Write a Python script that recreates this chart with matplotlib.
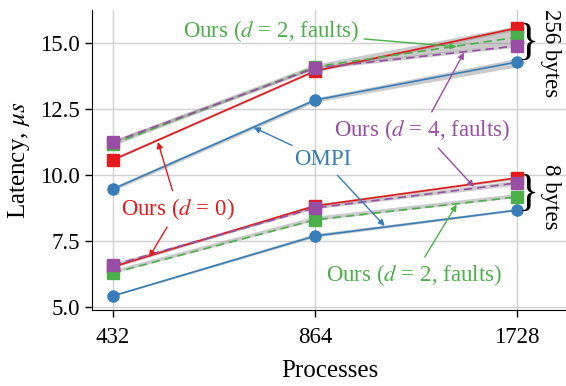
import numpy as np
import matplotlib.pyplot as plt

plt.rcParams['font.family'] = ['Liberation Serif', 'DejaVu Serif']
plt.rcParams['mathtext.fontset'] = 'stix'
plt.rcParams['font.size'] = 16.5

procs = [432, 864, 1728]

# 256-byte messages
ompi_256 = [9.47, 12.84, 14.28]
d0_256 = [10.57, 13.94, 15.57]
d2f_256 = [11.17, 14.10, 15.22]
d4f_256 = [11.25, 14.05, 14.89]

# 8-byte messages
ompi_8 = [5.42, 7.69, 8.67]
d0_8 = [6.52, 8.83, 9.89]
d2f_8 = [6.29, 8.30, 9.17]
d4f_8 = [6.59, 8.75, 9.70]

# spread (min/max over runs)
ompi_256_lo = [9.40, 12.76, 14.10]
ompi_256_hi = [9.55, 12.92, 14.42]
d0_256_lo = [10.55, 13.90, 15.50]
d0_256_hi = [10.66, 14.00, 15.62]
d2f_256_lo = [11.12, 14.05, 15.00]
d2f_256_hi = [11.32, 14.20, 15.65]
d4f_256_lo = [11.20, 14.00, 14.85]
d4f_256_hi = [11.32, 14.12, 15.00]

ompi_8_lo = [5.40, 7.64, 8.64]
ompi_8_hi = [5.46, 7.78, 8.72]
d0_8_lo = [6.48, 8.78, 9.84]
d0_8_hi = [6.58, 8.90, 9.94]
d2f_8_lo = [6.28, 8.28, 9.15]
d2f_8_hi = [6.42, 8.44, 9.30]
d4f_8_lo = [6.55, 8.72, 9.62]
d4f_8_hi = [6.66, 8.82, 9.80]

blue = '#377eb8'
red = '#e41a1c'
green = '#4daf4a'
purple = '#984ea3'

fig = plt.figure(figsize=(5.66, 3.86), dpi=100)
ax = fig.add_axes([0.1625, 0.197, 0.84, 0.777])

series = [
    (ompi_256, ompi_256_lo, ompi_256_hi, blue, 'o', '-'),
    (d0_256, d0_256_lo, d0_256_hi, red, 's', '-'),
    (d2f_256, d2f_256_lo, d2f_256_hi, green, 's', (0, (5, 3))),
    (d4f_256, d4f_256_lo, d4f_256_hi, purple, 's', (0, (5, 3))),
    (ompi_8, ompi_8_lo, ompi_8_hi, blue, 'o', '-'),
    (d0_8, d0_8_lo, d0_8_hi, red, 's', '-'),
    (d2f_8, d2f_8_lo, d2f_8_hi, green, 's', (0, (5, 3))),
    (d4f_8, d4f_8_lo, d4f_8_hi, purple, 's', (0, (5, 3))),
]
for i, (v, lo, hi, c, m, ls) in enumerate(series):
    ax.fill_between(procs, lo, hi, color='0.55', alpha=0.45, lw=0, zorder=2)
    ax.plot(procs, v, color=c, marker=m, ls=ls, lw=1.2, ms=8,
            zorder=3 + i % 4)

ax.set_xscale('log', base=2)
ax.set_xticks(procs)
ax.set_xticklabels([str(p) for p in procs])
ax.minorticks_off()
ax.set_xlim(402, 2053)
ax.set_ylim(4.886, 16.25)
ax.set_yticks([5.0, 7.5, 10.0, 12.5, 15.0])
ax.grid(True, color='0.82', lw=1)
ax.set_axisbelow(True)
for s in ['top', 'right']:
    ax.spines[s].set_visible(False)
ax.tick_params(length=5, width=1, labelsize=16.5)
ax.tick_params(axis='x', pad=7)
ax.set_xlabel('Processes', fontsize=18, labelpad=9)
ax.set_ylabel(r'Latency, $\mu s$', fontsize=18, labelpad=6)

arrow = dict(arrowstyle='-|>', lw=1, mutation_scale=9, shrinkA=2, shrinkB=0)


def label(text, xy_text, targets, color):
    # one annotate per arrow; only the first one shows the text
    for k, tgt in enumerate(targets):
        ax.annotate(text, xy=tgt, xytext=xy_text,
                    color=color if k == 0 else 'none',
                    ha='center', va='center', zorder=10,
                    arrowprops=dict(arrow, color=color),
                    annotation_clip=False)


label(r'Ours ($d$ = 2, faults)', (742, 15.45), [(1404, 14.86)], green)
label(r'Ours ($d$ = 4, faults)', (1246, 11.70), [(1440, 14.64), (1490, 9.55)], purple)
label('OMPI', (888, 10.57), [(700, 11.80), (1097, 8.07)], blue)
label(r'Ours ($d$ = 0)', (540, 8.71), [(504, 11.25), (489, 6.89)], red)
label(r'Ours ($d$ = 2, faults)', (1212, 6.21), [(1404, 8.88)], green)

# group markers on the right
ax.text(1800, 15.0, '}', fontsize=32, ha='center', va='center')
ax.text(1800, 9.28, '}', fontsize=32, ha='center', va='center')
ax.text(1935, 14.62, '256 bytes', rotation=270, ha='center', va='center')
ax.text(1935, 9.17, '8 bytes', rotation=270, ha='center', va='center')

fig.savefig('out.png', dpi=100)
